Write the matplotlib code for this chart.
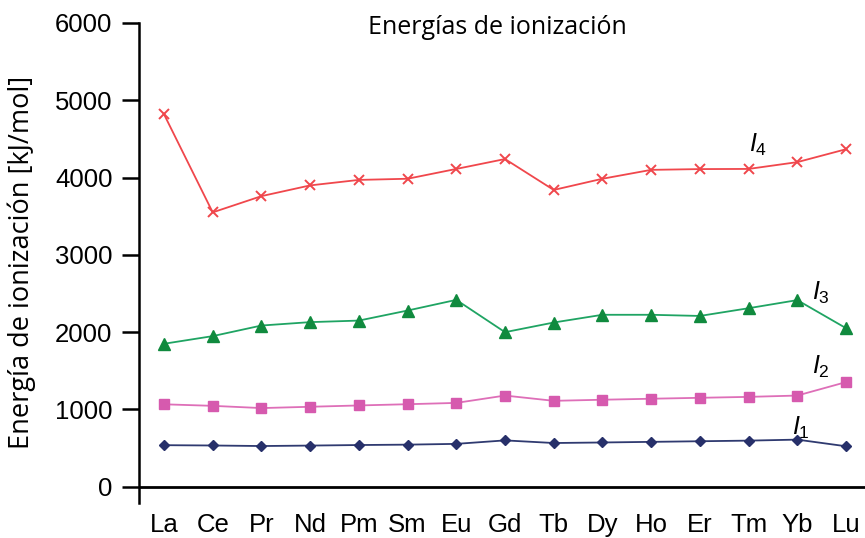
import matplotlib
matplotlib.use("Agg")
import matplotlib.pyplot as plt

plt.rcParams["mathtext.fontset"] = "custom"
plt.rcParams["mathtext.it"] = "Liberation Sans:italic"
plt.rcParams["mathtext.rm"] = "Liberation Sans"
plt.rcParams["mathtext.bf"] = "Liberation Sans:bold"

elements = ["La", "Ce", "Pr", "Nd", "Pm", "Sm", "Eu", "Gd", "Tb", "Dy", "Ho", "Er", "Tm", "Yb", "Lu"]
I1 = [538, 534, 527, 533, 540, 545, 555, 600, 566, 573, 581, 589, 597, 610, 524]
I2 = [1067, 1047, 1018, 1035, 1052, 1068, 1085, 1180, 1112, 1126, 1139, 1151, 1163, 1180, 1354]
I3 = [1850, 1949, 2086, 2130, 2150, 2280, 2418, 2000, 2125, 2225, 2225, 2210, 2310, 2415, 2052]
I4 = [4820, 3550, 3760, 3899, 3970, 3985, 4112, 4240, 3840, 3985, 4100, 4110, 4112, 4200, 4367]
yticks = [0, 1000, 2000, 3000, 4000, 5000, 6000]

fig = plt.figure(figsize=(8.65, 5.38), dpi=100)
ax = fig.add_axes([139/865, 35/538, 1 - 139/865, 480/538])

x = list(range(len(elements)))
ax.plot(x, I4, color="#f0474c", lw=1.3, marker="x", ms=6.5, mew=1.4)
ax.plot(x, I3, color="#1fa463", lw=1.3, marker="^", ms=8, mfc="#108a3e", mec="#108a3e")
ax.plot(x, I2, color="#de6fb8", lw=1.3, marker="s", ms=7, mfc="#d65aae", mec="#d65aae")
ax.plot(x, I1, color="#2f3a70", lw=1.3, marker="D", ms=4.8, mfc="#27306a", mec="#27306a")

ax.set_xlim(-0.513, 14.39)
ax.set_ylim(-210, 6000)
ax.set_xticks(x)
ax.set_xticklabels(elements, fontsize=18.5, family="Liberation Sans")
ax.set_yticks(yticks)
ax.set_yticklabels([str(v) for v in yticks], fontsize=18.5, family="Liberation Sans")
ax.tick_params(axis="x", length=0, pad=7)
ax.tick_params(axis="y", length=12, width=1.8, pad=7)
for s in ["top", "right", "bottom"]:
    ax.spines[s].set_visible(False)
ax.spines["left"].set_linewidth(1.8)
ax.axhline(0, color="black", lw=2)

fig.text(22/865, 1 - 262/538, "Energía de ionización [kJ/mol]", rotation=90,
         fontsize=19.5, family="Open Sans", ha="center", va="center")
fig.text(497.5/865, 1 - 27/538, "Energías de ionización", fontsize=18,
         family="Open Sans", ha="center", va="center")

ax.text(12.0, 4332, r"$\mathit{I}_{4}$", fontsize=18, va="baseline")
ax.text(13.3, 2418, r"$\mathit{I}_{3}$", fontsize=18, va="baseline")
ax.text(13.3, 1461, r"$\mathit{I}_{2}$", fontsize=18, va="baseline")
ax.text(12.9, 672, r"$\mathit{I}_{1}$", fontsize=18, va="baseline")

fig.savefig("out.png", dpi=100)
